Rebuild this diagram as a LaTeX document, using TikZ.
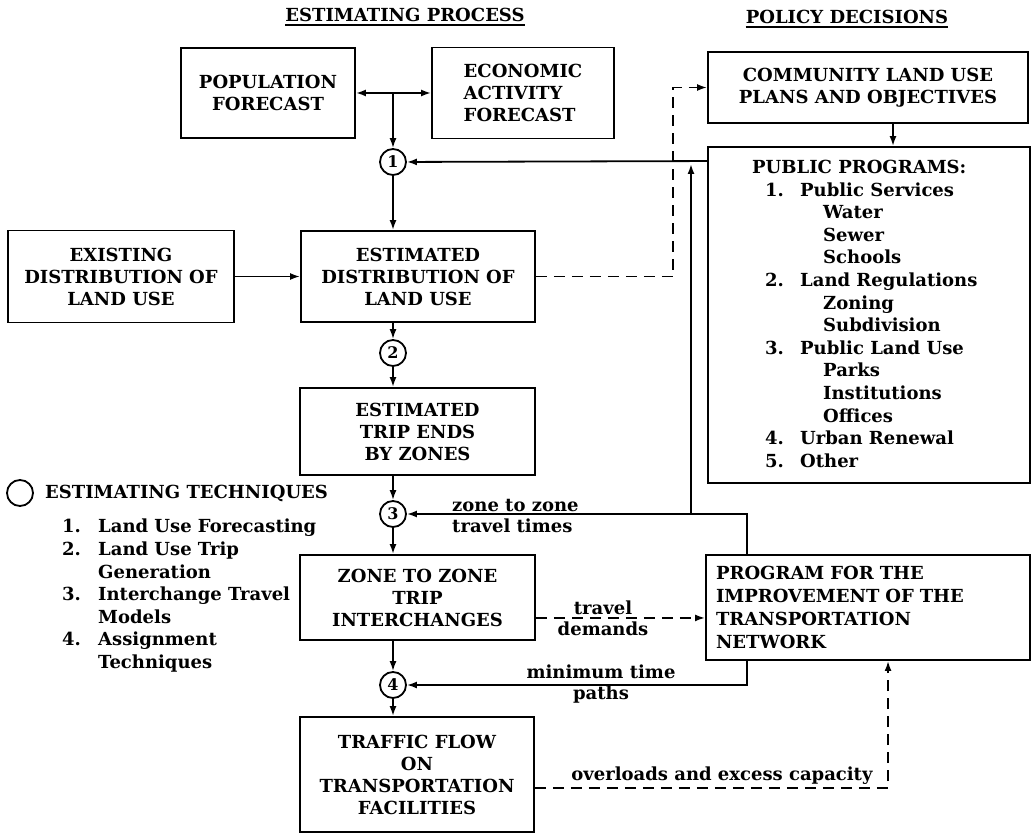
\documentclass[tikz,border=0pt]{standalone}
\usepackage{fontspec}
\setmainfont{DejaVu Serif}
\usetikzlibrary{arrows.meta,calc}
\tikzset{
 box/.style={draw, line width=1.9pt, align=center, inner sep=0pt, font=\bfseries\fontsize{18}{22}\selectfont},
 num/.style={draw, circle, line width=1.8pt, minimum size=26pt, inner sep=0pt, font=\bfseries\fontsize{16}{16}\selectfont},
 conn/.style={line width=1.8pt, -{Latex[length=10pt,width=7pt]}},
 dconn/.style={conn, dash pattern=on 11pt off 7pt},
 lbl/.style={font=\bfseries\fontsize{18}{21}\selectfont, align=center, inner sep=0pt},
 listtxt/.style={font=\bfseries\fontsize{18}{22.6}\selectfont, align=left, inner sep=0pt},
}
\begin{document}
\begin{tikzpicture}[x=1pt,y=-1pt]
\useasboundingbox (0,0) rectangle (1034,834);

% titles
\node[lbl] (t1) at (405,15) {ESTIMATING PROCESS};
\draw[line width=1.4pt] ([yshift=-3pt]t1.south west) -- ([yshift=-3pt]t1.south east);
\node[lbl] (t2) at (847,17) {POLICY DECISIONS};
\draw[line width=1.4pt] ([yshift=-3pt]t2.south west) -- ([yshift=-3pt]t2.south east);

% boxes
\node[box, minimum width=174pt, minimum height=90pt] (pop) at (268,93) {POPULATION\\FORECAST};
\node[box, minimum width=182pt, minimum height=91pt, align=left] (econ) at (523,93) {ECONOMIC\\ACTIVITY\\FORECAST};
\node[box, minimum width=320pt, minimum height=71pt] (comm) at (868,87.5) {COMMUNITY LAND USE\\PLANS AND OBJECTIVES};
\node[box, minimum width=322pt, minimum height=336pt] (pub) at (869,315) {};
\node[listtxt, anchor=north west] (pubt) at (752,160) {PUBLIC PROGRAMS:\\
\hspace*{13pt}\makebox[35pt][l]{1.}Public Services\\
\hspace*{71pt}Water\\
\hspace*{71pt}Sewer\\
\hspace*{71pt}Schools\\
\hspace*{13pt}\makebox[35pt][l]{2.}Land Regulations\\
\hspace*{71pt}Zoning\\
\hspace*{71pt}Subdivision\\
\hspace*{13pt}\makebox[35pt][l]{3.}Public Land Use\\
\hspace*{71pt}Parks\\
\hspace*{71pt}Institutions\\
\hspace*{71pt}Offices\\
\hspace*{13pt}\makebox[35pt][l]{4.}Urban Renewal\\
\hspace*{13pt}\makebox[35pt][l]{5.}Other};

\node[box, minimum width=226pt, minimum height=92pt] (exist) at (121,276.5) {EXISTING\\DISTRIBUTION OF\\LAND USE};
\node[box, minimum width=234pt, minimum height=91pt] (est) at (418,276.5) {ESTIMATED\\DISTRIBUTION OF\\LAND USE};
\node[box, minimum width=235pt, minimum height=87pt] (trip) at (417.5,431.5) {ESTIMATED\\TRIP ENDS\\BY ZONES};
\node[box, minimum width=235pt, minimum height=85pt] (zone) at (417.5,597.5) {ZONE TO ZONE\\TRIP\\INTERCHANGES};
\node[box, minimum width=234pt, minimum height=115pt] (traf) at (417,774.5) {TRAFFIC FLOW\\ON\\TRANSPORTATION\\FACILITIES};
\node[box, minimum height=105pt, text width=304pt, inner xsep=10pt, align=left, font=\bfseries\fontsize{18}{23}\selectfont] (prog) at (868,607.5) {PROGRAM FOR THE\\IMPROVEMENT OF THE\\TRANSPORTATION\\NETWORK};

% numbered circles
\node[num] (c1) at (393,162) {1};
\node[num] (c2) at (393,353) {2};
\node[num] (c3) at (393,514) {3};
\node[num] (c4) at (393,685) {4};

% legend
\node[num] (leg) at (20,493) {};
\node[lbl, anchor=west] (legt) at (45,493) {ESTIMATING TECHNIQUES};
\node[listtxt, anchor=north west] (legl) at (62,519) {\makebox[36pt][l]{1.}Land Use Forecasting\\
\makebox[36pt][l]{2.}Land Use Trip\\
\hspace*{36pt}Generation\\
\makebox[36pt][l]{3.}Interchange Travel\\
\hspace*{36pt}Models\\
\makebox[36pt][l]{4.}Assignment\\
\hspace*{36pt}Techniques};

% connectors
\coordinate (j) at (393,93);
\draw[conn, {Latex[length=10pt,width=7pt]}-{Latex[length=10pt,width=7pt]}] (pop.east) -- (econ.west);
\draw[conn] (j) -- (c1);
\draw[conn] (c1) -- (c1 |- est.north);
\draw[conn] (exist) -- (est);
\draw[conn] (c2 |- est.south) -- (c2);
\draw[conn] (c2) -- (c2 |- trip.north);
\draw[conn] (c3 |- trip.south) -- (c3);
\draw[conn] (c3) -- (c3 |- zone.north);
\draw[conn] (c4 |- zone.south) -- (c4);
\draw[conn] (c4) -- (c4 |- traf.north);

\coordinate (d1) at (673,276.5);
\coordinate (d2) at (673,87.5);
\draw[dconn] (est.east) -- (d1) -- (d2) -- (comm.west);
\draw[conn] ([xshift=25pt]comm.south) -- ([xshift=25pt]comm.south |- pub.north);
\draw[conn] ([yshift=-15pt]pub.north west) -- (c1);

\coordinate (p1) at ([xshift=42pt]prog.north west);
\draw[conn] (p1) |- (c3);
\coordinate (b1) at (691,514);
\coordinate (b2) at (691,164);
\draw[conn] (b1) -- (b2);

\draw[dconn] ([yshift=23pt]zone.south east) -- ([yshift=23pt]zone.south east -| prog.west);
\draw[conn] ([xshift=42pt]prog.south west) |- (c4);
\draw[dconn] ([yshift=45pt]traf.south east) -| ([xshift=183pt]prog.south west);

% labels
\node[lbl, anchor=west, align=left] (lzt) at (452,516.5) {zone to zone\\travel times};
\node[lbl] (ltd) at (603,618) {travel\\demands};
\node[lbl] (lmt) at (601,684) {minimum time\\paths};
\node[lbl] (lov) at (722,776) {overloads and excess capacity};
\end{tikzpicture}
\end{document}
